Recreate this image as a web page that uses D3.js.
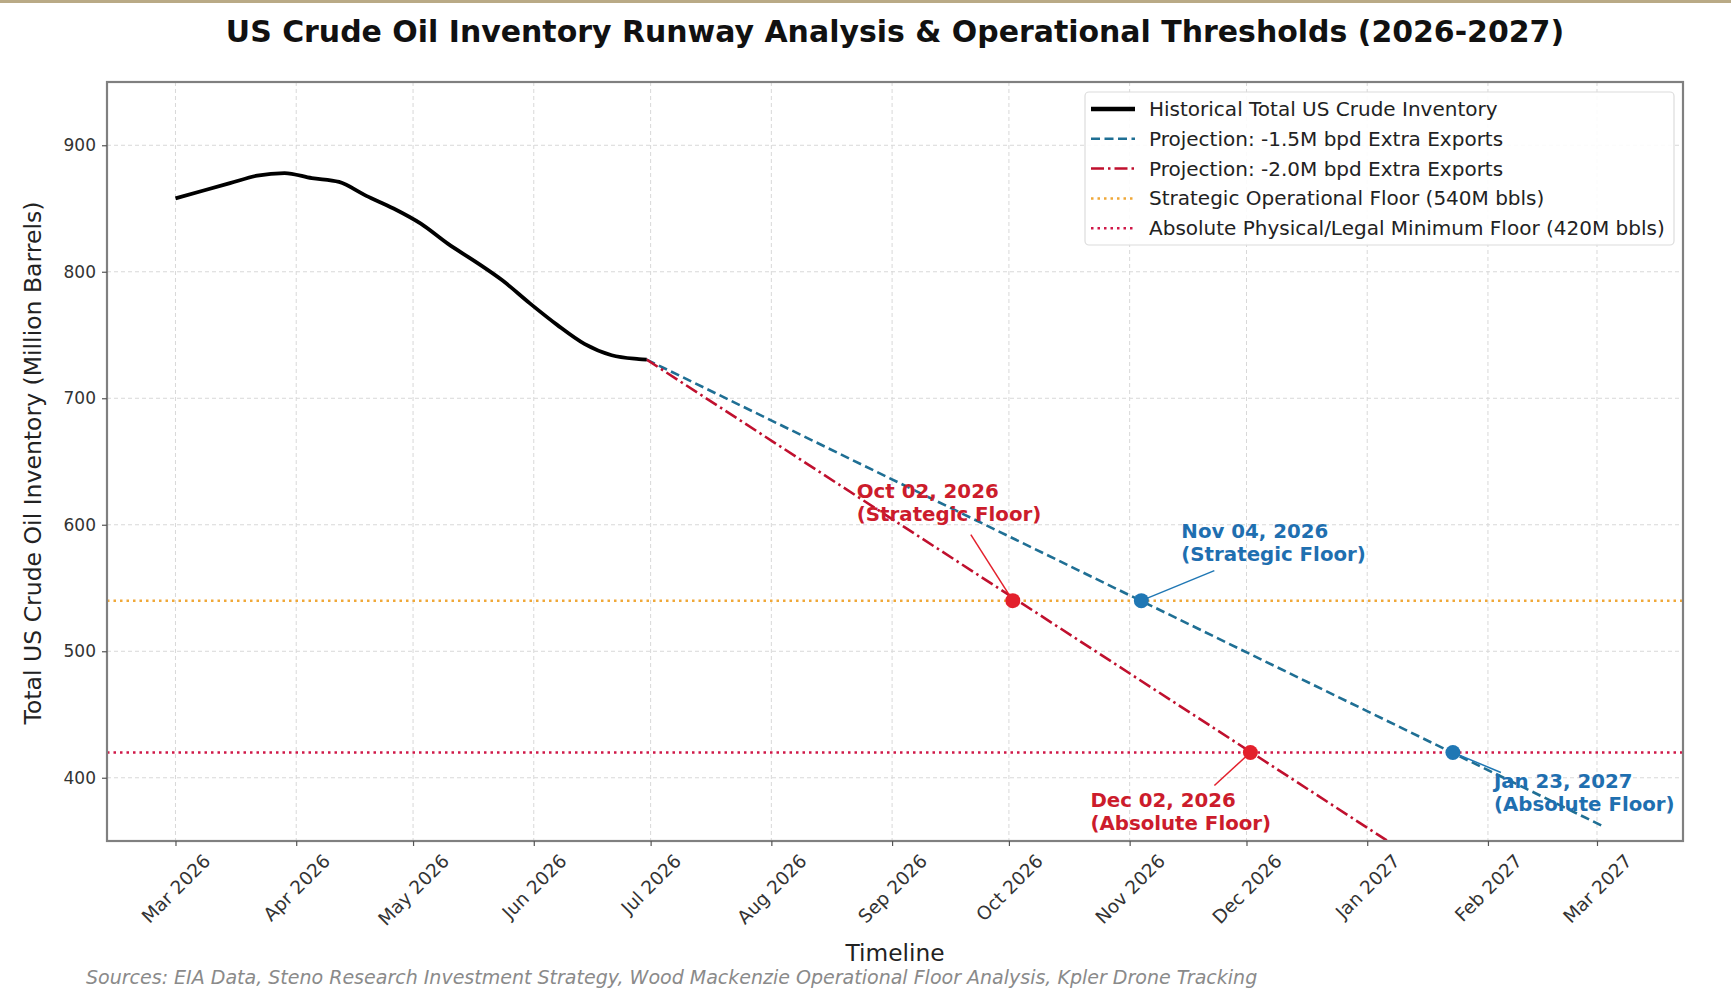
<!DOCTYPE html>
<html>
<head>
<meta charset="utf-8">
<script src="https://cdn.jsdelivr.net/npm/d3@7"></script>
<style>
  html, body { margin: 0; padding: 0; background: #ffffff; }
  svg { display: block; }
  text { font-family: "DejaVu Sans", sans-serif; }
</style>
</head>
<body>
<svg id="chart" width="1731" height="993"></svg>
<script>
// ---------------- DATA ----------------
const histDates = ["2026-03-01","2026-03-08","2026-03-15","2026-03-22","2026-03-29","2026-04-05","2026-04-12","2026-04-19","2026-04-26","2026-05-03","2026-05-10","2026-05-17","2026-05-24","2026-05-31","2026-06-07","2026-06-14","2026-06-21","2026-06-28","2026-06-30"];
const histValues = [858, 864, 870, 876, 878, 874, 871, 860, 850, 838, 822, 808, 793, 775, 758, 743, 734, 731, 730.5];

const proj15Dates = ["2026-06-30", "2027-03-03"];
const proj15Values = [730.5, 361];
const proj20Dates = ["2026-06-30", "2027-03-03"];
const proj20Values = [730.5, 238.5];

const strategicFloor = 540;
const absoluteFloor = 420;

const annoDates = ["2026-10-02", "2026-11-04", "2026-12-02", "2027-01-23"];
const annoValues = [540, 540, 420, 420];
const annoLine1 = ["Oct 02, 2026", "Nov 04, 2026", "Dec 02, 2026", "Jan 23, 2027"];
const annoLine2 = ["(Strategic Floor)", "(Strategic Floor)", "(Absolute Floor)", "(Absolute Floor)"];
const annoSeries = ["red", "blue", "red", "blue"];

const yTicks = [400, 500, 600, 700, 800, 900];
const legendLabels = [
  "Historical Total US Crude Inventory",
  "Projection: -1.5M bpd Extra Exports",
  "Projection: -2.0M bpd Extra Exports",
  "Strategic Operational Floor (540M bbls)",
  "Absolute Physical/Legal Minimum Floor (420M bbls)"
];
const titleText = "US Crude Oil Inventory Runway Analysis & Operational Thresholds (2026-2027)";
const xLabelText = "Timeline";
const yLabelText = "Total US Crude Oil Inventory (Million Barrels)";
const sourceText = "Sources: EIA Data, Steno Research Investment Strategy, Wood Mackenzie Operational Floor Analysis, Kpler Drone Tracking";

// ---------------- STYLE / LAYOUT ----------------
const C = {
  hist: "#000000",
  blue: "#1f6f94",
  red: "#c0102e",
  orange: "#f0a838",
  crimson: "#d01848",
  markRed: "#e3202c",
  markBlue: "#1f77b4",
  txtRed: "#cc1c2c",
  txtBlue: "#1f6fb0"
};
const L = { left: 107, right: 1683, top: 82, bottom: 841 };

const parse = d3.utcParse("%Y-%m-%d");
const svg = d3.select("#chart");

// top tan strip
svg.append("rect").attr("x", 0).attr("y", 0).attr("width", 1731).attr("height", 3).attr("fill", "#b9aa86");

const x = d3.scaleUtc()
  .domain([Date.UTC(2026, 1, 11, 10), Date.UTC(2027, 2, 23, 2)])
  .range([L.left, L.right]);
const y = d3.scaleLinear().domain([350, 950]).range([L.bottom, L.top]);

const monthTicks = d3.utcMonth.range(Date.UTC(2026, 2, 1), Date.UTC(2027, 2, 2));

// clip
svg.append("defs").append("clipPath").attr("id", "plotclip")
  .append("rect").attr("x", L.left).attr("y", L.top)
  .attr("width", L.right - L.left).attr("height", L.bottom - L.top);

// grid
const grid = svg.append("g");
grid.selectAll(".gx").data(monthTicks).join("line")
  .attr("x1", d => x(d)).attr("x2", d => x(d))
  .attr("y1", L.top).attr("y2", L.bottom)
  .attr("stroke", "#d8d8d8").attr("stroke-width", 1).attr("stroke-dasharray", "4,3");
grid.selectAll(".gy").data(yTicks).join("line")
  .attr("x1", L.left).attr("x2", L.right)
  .attr("y1", d => y(d)).attr("y2", d => y(d))
  .attr("stroke", "#d8d8d8").attr("stroke-width", 1).attr("stroke-dasharray", "4,3");

const plot = svg.append("g").attr("clip-path", "url(#plotclip)");

// threshold lines
plot.append("line").attr("x1", L.left).attr("x2", L.right)
  .attr("y1", y(strategicFloor)).attr("y2", y(strategicFloor))
  .attr("stroke", C.orange).attr("stroke-width", 2.5).attr("stroke-dasharray", "2.5,4");
plot.append("line").attr("x1", L.left).attr("x2", L.right)
  .attr("y1", y(absoluteFloor)).attr("y2", y(absoluteFloor))
  .attr("stroke", C.crimson).attr("stroke-width", 2.5).attr("stroke-dasharray", "2.5,4");

const line = d3.line().x(d => x(d[0])).y(d => y(d[1]));
const hist = histDates.map((d, i) => [parse(d), histValues[i]]);
const p15 = proj15Dates.map((d, i) => [parse(d), proj15Values[i]]);
const p20 = proj20Dates.map((d, i) => [parse(d), proj20Values[i]]);

plot.append("path").datum(p15).attr("d", line).attr("fill", "none")
  .attr("stroke", C.blue).attr("stroke-width", 2.6).attr("stroke-dasharray", "9,4.5");
plot.append("path").datum(p20).attr("d", line).attr("fill", "none")
  .attr("stroke", C.red).attr("stroke-width", 2.6).attr("stroke-dasharray", "13,4,2.5,4");
plot.append("path").datum(hist).attr("d", line.curve(d3.curveMonotoneX)).attr("fill", "none")
  .attr("stroke", C.hist).attr("stroke-width", 3.8).attr("stroke-linejoin", "round");

// annotations
const offsets = [ // text left/baseline offsets relative to point, arrow start
  { tx: -156, ty: -103, ax: -42, ay: -66 },
  { tx: 40, ty: -63, ax: 73, ay: -30 },
  { tx: -160, ty: 55, ax: -36, ay: 33 },
  { tx: 41, ty: 36, ax: 48, ay: 20 }
];
annoDates.forEach((d, i) => {
  const px = x(parse(d)), py = y(annoValues[i]);
  const col = annoSeries[i] === "red" ? C.txtRed : C.txtBlue;
  const o = offsets[i];
  const g = svg.append("g");
  g.append("line").attr("x1", px + o.ax).attr("y1", py + o.ay).attr("x2", px).attr("y2", py)
    .attr("stroke", annoSeries[i] === "red" ? C.markRed : C.markBlue).attr("stroke-width", 1.5);
  g.append("circle").attr("cx", px).attr("cy", py).attr("r", 7.5)
    .attr("fill", annoSeries[i] === "red" ? C.markRed : C.markBlue);
  const t = g.append("text").attr("x", px + o.tx).attr("y", py + o.ty)
    .attr("font-size", 19.8).attr("font-weight", "bold").attr("fill", col);
  t.append("tspan").attr("x", px + o.tx).attr("dy", 0).text(annoLine1[i]);
  t.append("tspan").attr("x", px + o.tx).attr("dy", 23).text(annoLine2[i]);
});

// spines
svg.append("rect").attr("x", L.left).attr("y", L.top)
  .attr("width", L.right - L.left).attr("height", L.bottom - L.top)
  .attr("fill", "none").attr("stroke", "#808080").attr("stroke-width", 2.2);

// y axis
const yAxis = d3.axisLeft(y).tickValues(yTicks).tickSize(5).tickPadding(6);
const gy = svg.append("g").attr("transform", `translate(${L.left},0)`).call(yAxis);
gy.select(".domain").remove();
gy.selectAll(".tick line").attr("stroke", "#555").attr("stroke-width", 1.2);
gy.selectAll(".tick text").attr("font-size", 17).attr("fill", "#333").attr("font-family", "DejaVu Sans");

// x axis
const xAxis = d3.axisBottom(x).tickValues(monthTicks).tickSize(5).tickFormat(d3.utcFormat("%b %Y"));
const gx = svg.append("g").attr("transform", `translate(0,${L.bottom})`).call(xAxis);
gx.select(".domain").remove();
gx.selectAll(".tick line").attr("stroke", "#555").attr("stroke-width", 1.2);
gx.selectAll(".tick text").each(function () {
  const t = d3.select(this);
  const fs = 18.5;
  t.attr("font-size", fs).attr("fill", "#333").attr("font-family", "DejaVu Sans")
    .attr("text-anchor", "middle").attr("dominant-baseline", "central").attr("dy", null);
  const w = this.getComputedTextLength();
  const bh = (w + fs) * Math.SQRT1_2;
  t.attr("y", 0).attr("transform", `translate(0,${10 + bh / 2}) rotate(-45)`);
});

// fit helper
function fitWidth(sel, target) {
  const w = sel.node().getComputedTextLength();
  const fs = parseFloat(sel.attr("font-size"));
  sel.attr("font-size", fs * target / w);
}

// title
const title = svg.append("text").attr("x", 895).attr("y", 42).attr("text-anchor", "middle")
  .attr("font-size", 26).attr("font-weight", "bold").attr("fill", "#111").text(titleText);
fitWidth(title, 1339);

// axis labels
const xl = svg.append("text").attr("x", 895).attr("y", 961).attr("text-anchor", "middle")
  .attr("font-size", 23).attr("fill", "#222").text(xLabelText);
fitWidth(xl, 99);
const yl = svg.append("text").attr("transform", "translate(41,463) rotate(-90)").attr("text-anchor", "middle")
  .attr("font-size", 23).attr("fill", "#222").text(yLabelText);
fitWidth(yl, 523);

// sources
const src = svg.append("text").attr("x", 86).attr("y", 984).attr("font-size", 15)
  .attr("font-style", "italic").attr("fill", "#8a8a8a").text(sourceText);
fitWidth(src, 1172);

// legend
const lg = svg.append("g");
lg.append("rect").attr("x", 1085).attr("y", 92).attr("width", 589).attr("height", 153)
  .attr("rx", 4).attr("fill", "#ffffff").attr("fill-opacity", 0.9)
  .attr("stroke", "#dcdcdc").attr("stroke-width", 1.2);
const legStyles = [
  { c: C.hist, w: 4.5, da: null },
  { c: C.blue, w: 2.5, da: "9,4.5" },
  { c: C.red, w: 2.5, da: "13,4,2.5,4" },
  { c: C.orange, w: 2.5, da: "2.5,4" },
  { c: C.crimson, w: 2.5, da: "2.5,4" }
];
legendLabels.forEach((lab, i) => {
  const yy = 109 + i * 29.8;
  const s = legStyles[i];
  const ln = lg.append("line").attr("x1", 1091).attr("x2", 1135).attr("y1", yy).attr("y2", yy)
    .attr("stroke", s.c).attr("stroke-width", s.w);
  if (s.da) ln.attr("stroke-dasharray", s.da);
  const t = lg.append("text").attr("x", 1149).attr("y", yy).attr("dominant-baseline", "central")
    .attr("font-size", 17).attr("fill", "#222").text(lab);
  if (i === 4) fitWidth(t, 516);
});
const fs5 = lg.selectAll("text").filter((d, i) => i === 4).attr("font-size");
lg.selectAll("text").attr("font-size", fs5);
</script>
</body>
</html>
